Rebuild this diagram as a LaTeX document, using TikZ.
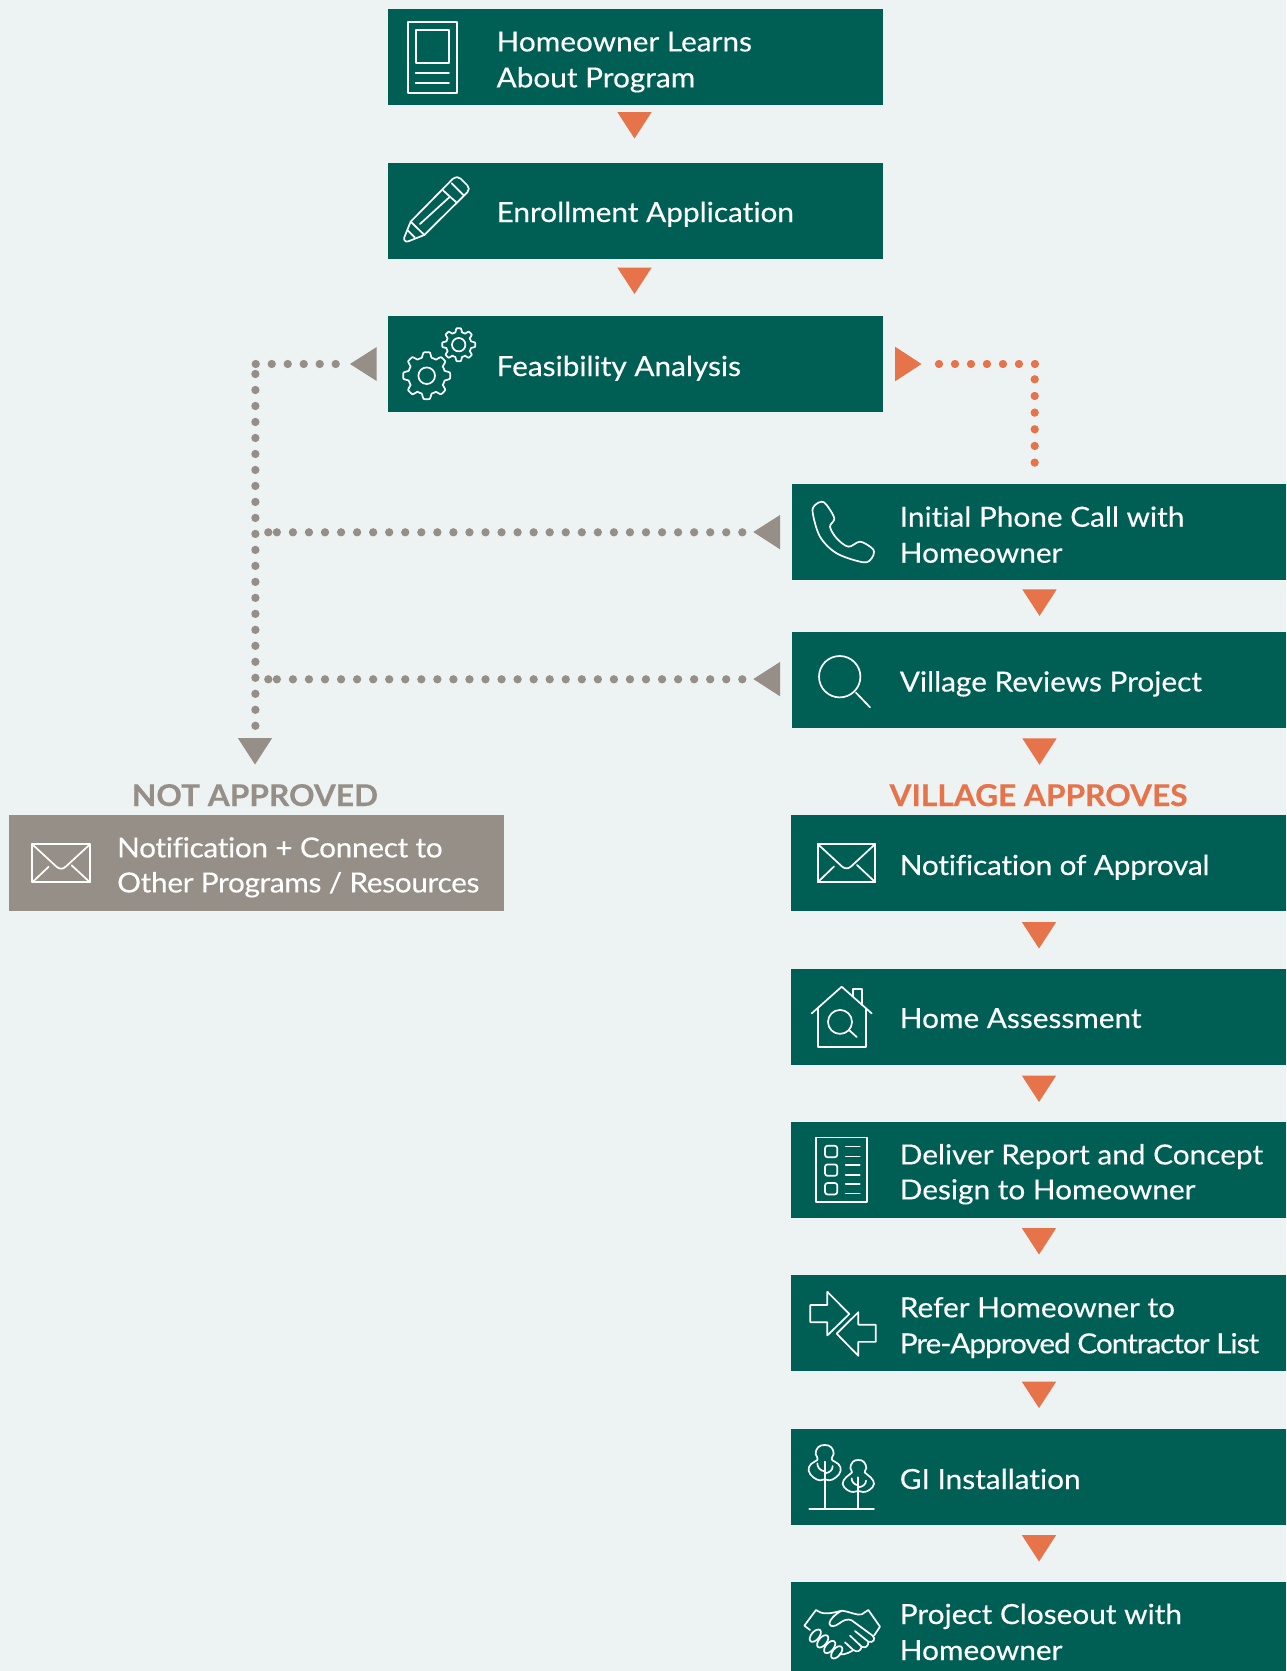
\documentclass[tikz,border=0pt]{standalone}
\usepackage{fontspec}
\setmainfont{Lato}[FakeBold=0.3,FakeStretch=1.075,Ligatures=NoCommon]
\newfontfamily\headfont{Lato Bold}[FakeBold=0.4,FakeStretch=1.055]
\definecolor{pagebg}{HTML}{EDF3F3}
\definecolor{boxgreen}{HTML}{005F55}
\definecolor{accent}{HTML}{E6734A}
\definecolor{stone}{HTML}{958F88}
\tikzset{
  stepbox/.style={fill=boxgreen,draw=none,anchor=north west,inner sep=0pt,minimum width=#1},
  stepbox/.default=495pt,
  stonebox/.style={fill=stone,draw=none,anchor=north west,inner sep=0pt,minimum width=495pt,minimum height=96pt},
  lbl/.style={text=white,anchor=base west,inner sep=0pt,align=left,font=\fontsize{27.7}{36}\selectfont},
  head/.style={anchor=base,inner sep=0pt,font=\headfont\fontsize{30}{36}\selectfont},
  icon/.style={draw=white,line width=1.7pt,line join=round,line cap=round,fill=none},
  dotline/.style={draw=#1,line width=8.3pt,line cap=round,dash pattern=on 0pt off 15.99pt},
  dotone/.style={fill=#1,draw=none,circle,minimum size=8.3pt,inner sep=0pt},
}
\newcommand{\downtri}[3]{\fill[#1] (#2-17.2,#3) -- (#2+17.2,#3) -- (#2,#3+26.5) -- cycle;}
\newcommand{\tight}[1]{\addfontfeatures{LetterSpace=#1}}
\begin{document}
\begin{tikzpicture}[x=1pt,y=-1pt]
\useasboundingbox (0,0) rectangle (1286,1671);
\fill[pagebg] (0,0) rectangle (1286,1671);
% boxes
\node[stepbox,minimum height=96pt] (b1) at (388,9) {};
\node[stepbox,minimum height=96pt] (b2) at (388,163) {};
\node[stepbox,minimum height=96pt] (b3) at (388,316) {};
\node[stepbox=494pt,minimum height=96pt] (b4) at (792,484) {};
\node[stepbox=494pt,minimum height=96pt] (b5) at (792,632) {};
\node[stepbox=495pt,minimum height=96pt] (b6) at (791,815) {};
\node[stepbox=495pt,minimum height=96pt] (b7) at (791,969) {};
\node[stepbox=495pt,minimum height=96pt] (b8) at (791,1122) {};
\node[stepbox=495pt,minimum height=96pt] (b9) at (791,1275) {};
\node[stepbox=495pt,minimum height=96pt] (b10) at (791,1429) {};
\node[stepbox=495pt,minimum height=89pt] (b11) at (791,1582) {};
\node[stonebox] (g1) at (9,815) {};
% labels (a two-line label is placed by its last baseline)
\node[lbl] (t1) at (496.4,87.4) {Homeowner Learns\\About Program};
\node[lbl] (t2) at (496.4,222) {Enrollment Application};
\node[lbl] (t3) at (496.4,376) {Feasibility Analysis};
\node[lbl] (t4) at (899.6,562.7) {Initial Phone Call with\\Homeowner};
\node[lbl] (t5) at (899.6,691.5) {Village Reviews Project};
\node[lbl] (t6) at (899.6,875) {\tight{-0.7}Notification of Approval};
\node[lbl] (t7) at (899.6,1028) {Home Assessment};
\node[lbl] (t8) at (899.6,1199.4) {Deliver Report and Concept\\[-1pt]Design to Homeowner};
\node[lbl] (t9) at (899.6,1353.3) {Refer Homeowner to\\\tight{-3.7}Pre-Approved Contractor List};
\node[lbl] (t10) at (899.6,1489) {GI Installation};
\node[lbl] (t11) at (899.6,1660) {Project Closeout with\\Homeowner};
\node[lbl,font=\fontsize{27.7}{36}\selectfont\tight{-1.2}] (t12) at (117,892.4) {Notification + Connect to\\[-1pt]Other Programs / Resources};
\node[head,text=accent] (h1) at (1038.5,806) {VILLAGE APPROVES};
\node[head,text=stone] (h2) at (255,806) {NOT APPROVED};
% orange triangles
\downtri{accent}{634.5}{112}
\downtri{accent}{634.5}{267.5}
\downtri{accent}{1039.5}{589.4}
\downtri{accent}{1039.5}{738.3}
\downtri{accent}{1039}{922}
\downtri{accent}{1039}{1075.5}
\downtri{accent}{1039}{1228}
\downtri{accent}{1039}{1381.6}
\downtri{accent}{1039}{1535}
\downtri{stone}{255}{738}
% side triangles
\fill[accent] (895,346.7) -- (921.5,364) -- (895,381.3) -- cycle;
\fill[stone] (376.7,347) -- (350,364) -- (376.7,381) -- cycle;
\fill[stone] (780,515) -- (753.3,532) -- (780,549.3) -- cycle;
\fill[stone] (780,662) -- (753.3,679) -- (780,696.3) -- cycle;
% connector points
\coordinate (oa) at (939,364);
\coordinate (ob) at (1035,364);
\coordinate (oc) at (1034.7,379.3);
\coordinate (od) at (1034.7,462.7);
\coordinate (ga) at (335.7,364);
\coordinate (gb) at (255.7,364);
\coordinate (gc) at (255.4,374);
\coordinate (gd) at (255.4,726);
\coordinate (ha) at (742.3,532.3);
\coordinate (hb) at (276,532.3);
\coordinate (ia) at (742.3,679.3);
\coordinate (ib) at (276,679.3);
% dotted connectors
\draw[dotline=accent] (oa) -- (ob);
\draw[dotline=accent,dash pattern=on 0pt off 16.66pt] (oc) -- (od);
\draw[dotline=stone] (ga) -- (gb);
\draw[dotline=stone] (gc) -- (gd);
\draw[dotline=stone,dash pattern=on 0pt off 16.05pt] (ha) -- (hb);
\draw[dotline=stone,dash pattern=on 0pt off 16.05pt] (ia) -- (ib);
\node[dotone=stone] (hc) at (268.3,532.3) {};
\node[dotone=stone] (ic) at (268.3,679.3) {};
% icon 1 document
\draw[icon] (407.7,21.7) rectangle (457,92.7);
\draw[icon] (415.7,30) rectangle (449,63.3);
\draw[icon] (415.7,73.3) -- (449,73.3) (415.7,83.3) -- (449,83.3);
% icon 2 pencil
\begin{scope}[x=0.3333pt,y=-0.3333pt,shift={(380pt,0pt)}]
\draw[icon] (92,665) -- (218,537) .. controls (228,530) and (236,530) .. (242,536) -- (262,556)
  .. controls (268,563) and (268,570) .. (262,577) -- (133,705) -- (85,724)
  .. controls (76,727) and (70,720) .. (73,712) -- cycle;
\draw[icon] (190,572) -- (230,608) (215,550) -- (250,585) (120,672) -- (210,590) (92,665) -- (133,705) (84,692) -- (104,712);
\end{scope}
% icon 3 gears
\draw[icon] plot[smooth cycle,tension=0.5,domain=0:358,samples=180] ({426.7+(21+2.5*max(-1,min(1,2*cos(8*\x))))*cos(\x)},{375.7+(21+2.5*max(-1,min(1,2*cos(8*\x))))*sin(\x)});
\draw[icon] (426.7,375.7) circle (8.3);
\draw[icon] plot[smooth cycle,tension=0.5,domain=0:358,samples=180] ({458.7+(14.6+1.9*max(-1,min(1,2*cos(8*\x))))*cos(\x)},{344.7+(14.6+1.9*max(-1,min(1,2*cos(8*\x))))*sin(\x)});
\draw[icon] (458.7,344.7) circle (6.7);
% icon 4 phone
\begin{scope}[x=0.3333pt,y=-0.3333pt,shift={(800pt,-490pt)}]
\draw[icon] plot[smooth cycle,tension=0.55] coordinates {(65,35) (45,45) (38,68) (60,140) (110,190) (190,217) (215,205) (222,185) (213,172) (180,155) (145,170) (110,145) (90,110) (103,85) (80,45)};
\end{scope}
% icon 5 magnifier
\draw[icon] (839.7,676.7) circle (20.7);
\draw[icon] (856,692.7) -- (870,707.3);
% icon 6 envelope
\draw[icon] (817.7,844) rectangle (875.3,882.2);
\draw[icon] (817.7,844) -- (842,866.5) .. controls (845,869) and (848,869) .. (851,866.5) -- (875.3,844)
  (817.7,882.2) -- (834,866.5) (875.3,882.2) -- (857,865);
% icon 7 house
\draw[icon] (811.7,1013.4) -- (841.7,986.7) -- (871.7,1013.4);
\draw[icon] (817.7,1008.5) -- (817.7,1046.7) -- (866,1046.7) -- (866,1008.5);
\draw[icon] (852.7,996) -- (852.7,989.3) -- (862.3,989.3) -- (862.3,1005);
\draw[icon] (840,1021.9) circle (12);
\draw[icon] (849,1030) -- (856.7,1037);
% icon 8 list
\draw[icon] (816.3,1137.5) rectangle (867.3,1202.3);
\draw[icon,rounded corners=2.5pt] (825,1145.8) rectangle (837.3,1157.2);
\draw[icon,rounded corners=2.5pt] (825,1164.4) rectangle (837.3,1175.8);
\draw[icon,rounded corners=2.5pt] (825,1183) rectangle (837.3,1194.4);
\draw[icon] (845.7,1146.5) -- (859.7,1146.5) (845.7,1156.5) -- (859.7,1156.5)
  (845.7,1165.1) -- (859.7,1165.1) (845.7,1174.8) -- (859.7,1174.8)
  (845.7,1183.7) -- (859.7,1183.7) (845.7,1193.4) -- (859.7,1193.4);
% icon 9 arrows
\begin{scope}[x=0.3333pt,y=-0.3578pt,shift={(780pt,-1110pt)}]
\draw[icon] (91,545) -- (142,545) -- (142,508) -- (208,570) -- (142,630) -- (142,593) -- (91,593) -- cycle;
\draw[icon] (287,600) -- (235,600) -- (235,565) -- (170,625) -- (235,687) -- (235,648) -- (287,648) -- cycle;
\end{scope}
% icon 10 trees
\begin{scope}[x=0.3333pt,y=-0.3333pt,shift={(800pt,-1440pt)}]
\draw[icon] plot[smooth cycle,tension=0.75] coordinates {(74,15) (94,22) (101,42) (95,58) (115,72) (122,92) (108,112) (88,121) (74,118) (60,121) (40,112) (26,92) (33,72) (53,58) (47,42) (54,22)};
\draw[icon] plot[smooth cycle,tension=0.75] coordinates {(175,60) (192,66) (199,85) (194,97) (212,112) (222,132) (208,150) (190,156) (175,153) (160,156) (142,150) (128,132) (138,112) (156,97) (151,85) (158,66)};
\draw[icon] (74,65) -- (74,205) (175,112) -- (175,205) (28,207) -- (222,207);
\draw[icon] (74,100) .. controls (90,98) and (98,90) .. (98,78) (74,94) .. controls (60,92) and (52,82) .. (52,70);
\draw[icon] (175,142) .. controls (190,140) and (198,132) .. (198,122) (175,136) .. controls (162,134) and (155,125) .. (155,115);
\end{scope}
% icon 11 handshake
\begin{scope}[x=0.3333pt,y=-0.3333pt,shift={(800pt,-1595pt)}]
\draw[icon] (30,105) -- (13,92) -- (48,45) .. controls (65,58) and (85,58) .. (125,47) .. controls (150,50) and (170,62) .. (185,58) -- (205,45) -- (240,95) -- (222,122);
\draw[icon] (125,47) .. controls (105,58) and (90,72) .. (88,85) .. controls (90,98) and (105,95) .. (118,85) .. controls (130,76) and (142,70) .. (155,76) -- (218,122)
  .. controls (228,132) and (220,145) .. (205,140) -- (165,108)
  (205,140) .. controls (206,155) and (195,160) .. (185,155) -- (150,122)
  (185,155) .. controls (182,170) and (170,172) .. (160,165) -- (135,142)
  (160,165) .. controls (150,172) and (135,180) .. (118,178);
\foreach \cx/\cy in {46/122,68/139,89/156,110/172}
  \draw[icon,shift={(\cx,\cy)},rotate=50] (0,0) ellipse [x radius=22,y radius=12];
\end{scope}
% icon 12 envelope (stone box)
\draw[icon] (32.3,844.3) rectangle (90,882.3);
\draw[icon] (32.3,844.3) -- (56.6,866.8) .. controls (59.6,869.3) and (62.6,869.3) .. (65.6,866.8) -- (90,844.3)
  (32.3,882.3) -- (48.6,866.8) (90,882.3) -- (71.6,865.3);
\end{tikzpicture}
\end{document}
